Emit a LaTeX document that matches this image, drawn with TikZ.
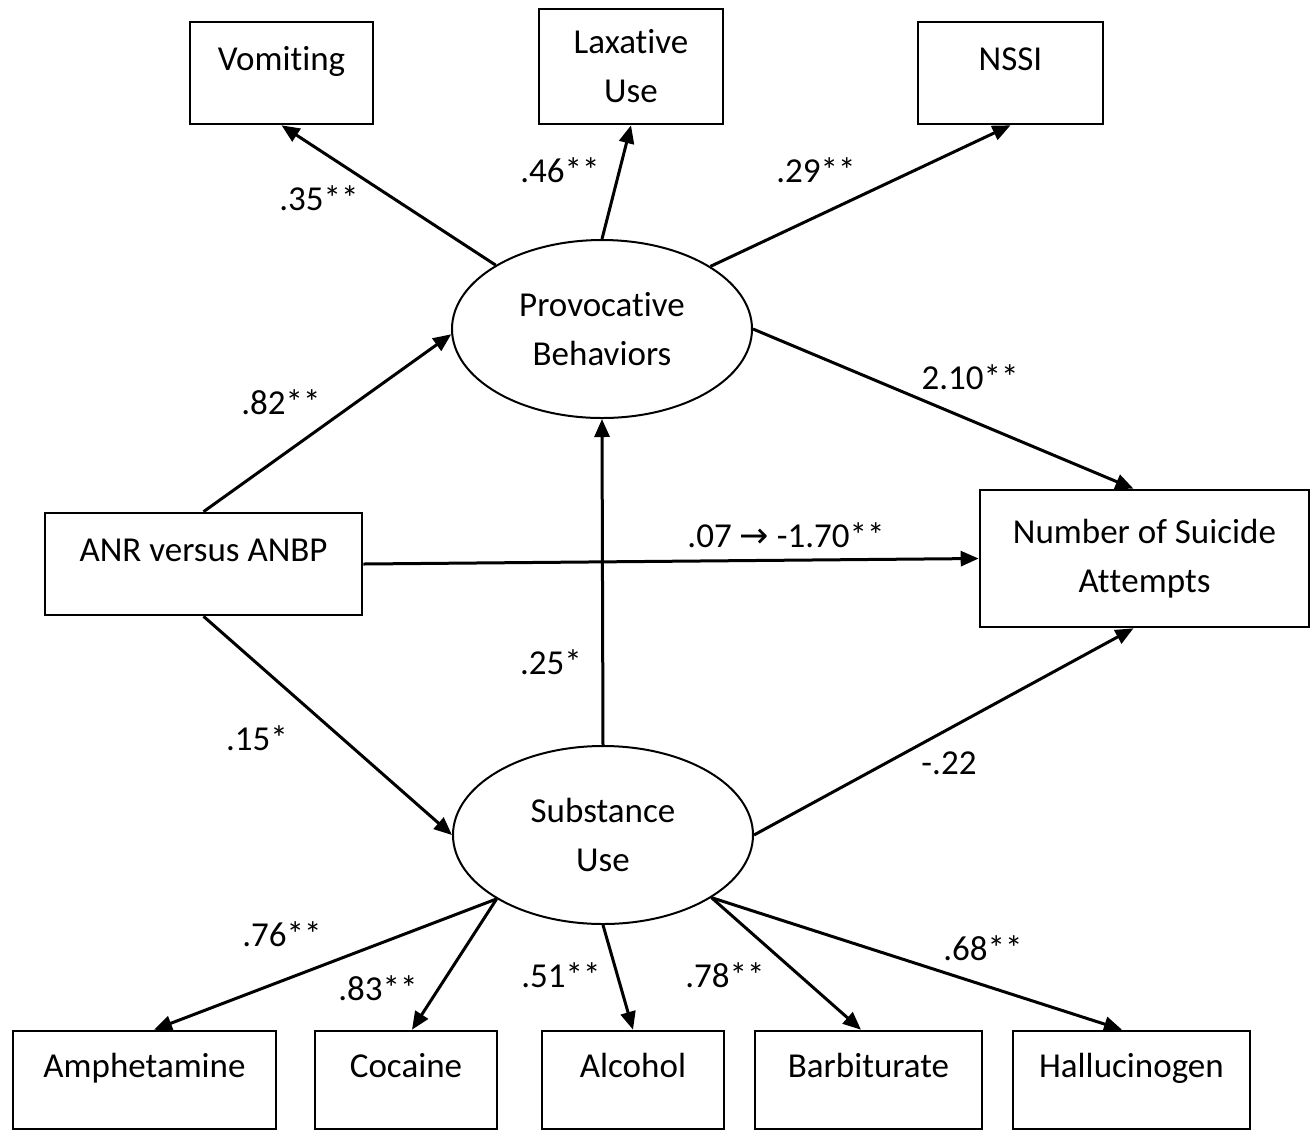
\documentclass[tikz,border=0pt]{standalone}
\usepackage{fontspec}
\setmainfont{Carlito}[RawFeature={-liga;-clig;-calt;-dlig}]
\newfontfamily\arrowfont{DejaVu Sans}
\usetikzlibrary{arrows.meta,calc,shapes.geometric}
\begin{document}
\begin{tikzpicture}[x=0.5pt,y=-0.5pt,
  every node/.style={font=\fontsize{17.5pt}{24.5pt}\selectfont},
  box/.style={draw, line width=1.3pt, inner sep=0pt, align=center},
  onebox/.style={box, text height=11pt, text depth=14pt},
  latent/.style={draw, ellipse, line width=1pt, inner sep=0pt, minimum width=150pt, minimum height=89pt, align=center},
  arr/.style={-{Triangle[length=9pt,width=7.5pt]}, line width=1.5pt},
  coef/.style={inner sep=0pt}]
\useasboundingbox (0,0) rectangle (1314,1132);
% observed indicators (top)
\node[onebox, minimum width=91.5pt, minimum height=51pt] (vom) at (281.5,73) {Vomiting};
\node[box, minimum width=92pt, minimum height=57.5pt] (lax) at (631,66.5) {Laxat\kern0pt ive\\Use};
\node[onebox, minimum width=92.5pt, minimum height=51pt] (nssi) at (1010.5,73) {NSSI};
% latent variables
\node[latent] (prov) at (602,329) {Provocat\kern0pt ive\\Behaviors};
\node[latent] (sub) at (603,835) {Substance\\Use};
% predictor and outcome
\node[onebox, minimum width=158.5pt, minimum height=51pt] (anr) at (203.5,564) {ANR versus ANBP};
\node[box, minimum width=164.5pt, minimum height=68.5pt] (num) at (1144.5,558.5) {Number of Suicide\\At\kern0pt t\kern0pt empts};
% observed indicators (bottom)
\node[onebox, minimum width=131.5pt, minimum height=49pt] (amp) at (144.5,1080) {Amphetamine};
\node[onebox, minimum width=91pt, minimum height=49pt] (coc) at (406,1080) {Cocaine};
\node[onebox, minimum width=91pt, minimum height=49pt] (alc) at (633,1080) {Alcohol};
\node[onebox, minimum width=113.5pt, minimum height=49pt] (bar) at (868.5,1080) {Barbiturate};
\node[onebox, minimum width=118.5pt, minimum height=49pt] (hal) at (1131.5,1080) {Hallucinogen};
% paths
\draw[arr] (prov.149.7) -- (vom.south);
\draw[arr] (prov.north) -- (lax.south);
\draw[arr] (prov.30) -- (nssi.south);
\draw[arr] (prov.east) -- ($(num.north)+(-11,0)$);
\draw[arr] (anr.north) -- (prov.182);
\draw[arr] (anr.east) -- (num.west);
\draw[arr] (anr.south) -- (sub.west);
\draw[arr] (sub.north) -- (prov.south);
\draw[arr] (sub.east) -- ($(num.south)+(-11,0)$);
\draw[arr] (sub.211) -- ($(amp.north)+(9.5,0)$);
\draw[arr] (sub.211) -- ($(coc.north)+(6,0)$);
\draw[arr] (sub.south) -- (alc.north);
\draw[arr] (sub.330) -- ($(bar.north)+(-7.5,0)$);
\draw[arr] (sub.330) -- ($(hal.north)+(-9.5,0)$);
% coefficients
\node[coef] (c1) at (319,198) {.35**};
\node[coef] (c2) at (560,170) {.46**};
\node[coef] (c3) at (816,170) {.29**};
\node[coef] (c4) at (281,402) {.82**};
\node[coef] (c5) at (970,377) {2.10**};
\node[coef] (c6) at (786,535) {.07 {\arrowfont →} -1.70**};
\node[coef] (c7) at (551,662) {.25*};
\node[coef] (c8) at (257,738) {.15*};
\node[coef] (c9) at (949,763) {-.22};
\node[coef] (c10) at (282,934) {.76**};
\node[coef] (c11) at (378,988) {.83**};
\node[coef] (c12) at (561,975) {.51**};
\node[coef] (c13) at (725,975) {.78**};
\node[coef] (c14) at (983,948) {.68**};
\end{tikzpicture}
\end{document}
